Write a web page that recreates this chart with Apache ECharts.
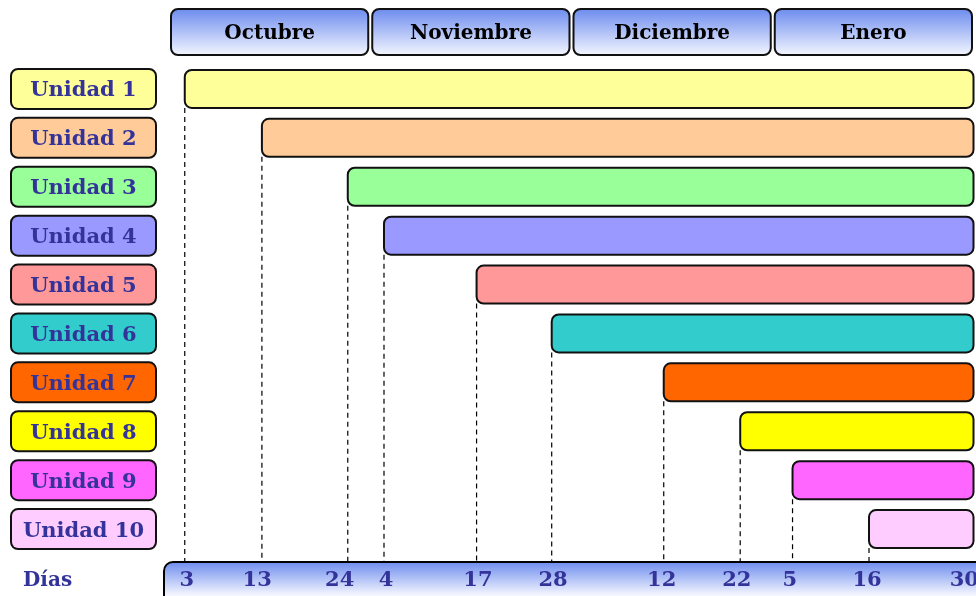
<!DOCTYPE html>
<html>
<head>
<meta charset="utf-8">
<script src="https://cdn.jsdelivr.net/npm/echarts@6/dist/echarts.min.js"></script>
<style>
html,body{margin:0;padding:0;background:#fff;}
#chart{width:976px;height:596px;}
</style>
</head>
<body>
<div id="chart"></div>
<script>
// ---- data ----
const months = ['Octubre', 'Noviembre', 'Diciembre', 'Enero'];
const units = ['Unidad 1','Unidad 2','Unidad 3','Unidad 4','Unidad 5','Unidad 6','Unidad 7','Unidad 8','Unidad 9','Unidad 10'];
// start position of each unit on the timeline (each month = 30 units, axis 0..120)
const starts = [2.2, 13.7, 26.5, 31.9, 45.7, 56.9, 73.6, 85.0, 92.8, 104.2];
const endPos = 120;
const unitColors = ['#FFFF99','#FFCC99','#99FF99','#9999FF','#FF9999','#33CCCC','#FF6600','#FFFF00','#FF66FF','#FFCCFF'];
// day tick labels and their positions on the timeline
const tickLabels = ['3','13','24','4','17','28','12','22','5','16','30'];
const tickPos = [2.5, 13.0, 25.3, 32.2, 45.9, 57.1, 73.3, 84.5, 92.4, 103.9, 118.4];

const FONT = 'DejaVu Serif';
const TXT = '#333399';

const rich = {};
units.forEach((u, i) => {
  rich['u' + i] = {
    width: 143, height: 34, lineHeight: 34, align: 'center', padding: [4, 0, 0, 0],
    backgroundColor: unitColors[i], borderColor: '#111', borderWidth: 2, borderRadius: 6,
    fontFamily: FONT, fontWeight: 'bold', fontSize: 21, color: TXT
  };
});

const chart = echarts.init(document.getElementById('chart'));
const option = {
  backgroundColor: '#fff',
  animation: false,
  grid: [
    {left: 170, right: 1, top: 64.5, height: 489, outerBoundsMode: 'none', containLabel: false},
    {left: 170, right: 1, top: 9, height: 46, outerBoundsMode: 'none', containLabel: false}
  ],
  xAxis: [
    {
      type: 'value', gridIndex: 0, min: 0, max: endPos,
      axisLine: {show: false}, axisTick: {show: false}, splitLine: {show: false},
      axisLabel: {
        customValues: tickPos,
        margin: 17,
        fontFamily: FONT, fontWeight: 'bold', fontSize: 21, color: TXT,
        formatter: v => { const k = tickPos.indexOf(v); return k >= 0 ? tickLabels[k] : ''; }
      }
    },
    {
      type: 'category', gridIndex: 1, data: months,
      axisLine: {show: false}, axisTick: {show: false}, axisLabel: {show: false}, splitLine: {show: false}
    }
  ],
  yAxis: [
    {
      type: 'category', gridIndex: 0, data: units, inverse: true,
      axisLine: {show: false}, axisTick: {show: false}, splitLine: {show: false},
      axisLabel: {
        margin: 15, align: 'right',
        formatter: (v, i) => '{u' + i + '|' + v + '}',
        rich: rich
      }
    },
    {type: 'value', gridIndex: 1, min: 0, max: 1, show: false}
  ],
  graphic: [
    {
      type: 'rect', z: -10, silent: true,
      shape: {x: 164, y: 562, width: 830, height: 60, r: [9, 0, 0, 0]},
      style: {
        fill: new echarts.graphic.LinearGradient(0, 0, 0, 1, [
          {offset: 0, color: '#6A8AEE'}, {offset: 0.55, color: '#F4F6FF'}, {offset: 1, color: '#FFFFFF'}
        ]),
        stroke: '#000', lineWidth: 2
      }
    },
    {
      type: 'text', left: 23, top: 571, silent: true,
      style: {text: 'Días', fontFamily: FONT, fontWeight: 'bold', fontSize: 20, fill: TXT}
    }
  ],
  series: [
    {
      type: 'custom', xAxisIndex: 0, yAxisIndex: 0, clip: false,
      data: units.map((u, i) => [i, starts[i], endPos]),
      encode: {x: [1, 2], y: 0},
      renderItem: (params, api) => {
        const idx = params.dataIndex;
        const c = api.value(0);
        const p0 = api.coord([api.value(1), c]);
        const p1 = api.coord([api.value(2), c]);
        const h = api.size([0, 1])[1] * 0.777;
        const cs = params.coordSys;
        return {
          type: 'group',
          children: [
            {
              type: 'line',
              shape: {x1: p0[0], y1: p0[1] + h / 2, x2: p0[0], y2: cs.y + cs.height + 8},
              style: {stroke: '#000', lineWidth: 1.2, lineDash: [5, 4]}
            },
            {
              type: 'rect',
              shape: {x: p0[0], y: p0[1] - h / 2, width: p1[0] - p0[0] - 1.5, height: h, r: 7},
              style: {fill: unitColors[idx], stroke: '#111', lineWidth: 2}
            }
          ]
        };
      }
    },
    {
      type: 'custom', xAxisIndex: 1, yAxisIndex: 1, clip: false,
      data: months.map((m, i) => [i, 1]),
      encode: {x: 0, y: 1},
      renderItem: (params, api) => {
        const p = api.coord([api.value(0), 0]);
        const bw = api.size([1, 0])[0];
        const cs = params.coordSys;
        return {
          type: 'rect',
          shape: {x: p[0] - bw / 2 + 1, y: cs.y, width: bw - 4, height: cs.height, r: 7},
          style: {
            fill: new echarts.graphic.LinearGradient(0, 0, 0, 1, [
              {offset: 0, color: '#6A8AEE'}, {offset: 1, color: '#F6F8FF'}
            ]),
            stroke: '#111', lineWidth: 2
          },
          textContent: {
            style: {text: months[params.dataIndex], fontFamily: FONT, fontWeight: 'bold', fontSize: 20, fill: '#000'}
          },
          textConfig: {position: 'inside', offset: [0, 2]}
        };
      }
    }
  ]
};
chart.setOption(option);
</script>
</body>
</html>
